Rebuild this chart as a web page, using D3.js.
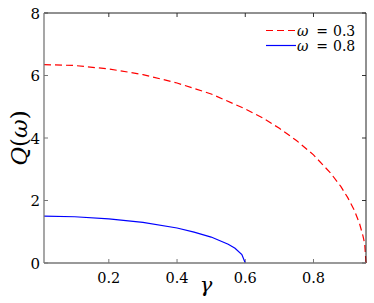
<!DOCTYPE html>
<html>
<head>
<meta charset="utf-8">
<script src="https://cdn.jsdelivr.net/npm/d3@7"></script>
<style>
body { margin: 0; background: #fff; }
svg text { font-family: "DejaVu Serif", serif !important; }
</style>
</head>
<body>
<script>
// values
var gammaRed = [0.01, 0.1, 0.2, 0.3, 0.4, 0.5, 0.6, 0.65, 0.7, 0.75, 0.8, 0.85, 0.88, 0.9, 0.92, 0.935, 0.945, 0.95, 0.9539]
var qRed     = [6.35, 6.32, 6.21, 6.03, 5.76, 5.41, 4.93, 4.65, 4.31, 3.92, 3.46, 2.88, 2.45, 2.10, 1.68, 1.26, 0.87, 0.62, 0]
var gammaBlue = [0.01, 0.1, 0.2, 0.3, 0.4, 0.45, 0.5, 0.55, 0.57, 0.59, 0.6]
var qBlue     = [1.5, 1.48, 1.41, 1.30, 1.12, 0.99, 0.83, 0.60, 0.47, 0.27, 0]
var xTicks = [0.2, 0.4, 0.6, 0.8]
var yTicks = [0, 2, 4, 6, 8]
var legendValues = ["0.3", "0.8"]

var W = 374, H = 303
var margin = {top: 13, right: 8, bottom: 40, left: 44}

var svg = d3.select("body").append("svg")
    .attr("width", W).attr("height", H)

var x = d3.scaleLinear().domain([0.01, 0.9539]).range([margin.left, W - margin.right])
var y = d3.scaleLinear().domain([0, 8]).range([H - margin.bottom, margin.top])

var x0 = x.range()[0], x1 = x.range()[1], y0 = y.range()[0], y1 = y.range()[1]

// ticks inward, on all four sides
var g = svg.append("g")
xTicks.forEach(function(t){
    g.append("line").attr("x1", x(t)).attr("x2", x(t)).attr("y1", y0).attr("y2", y0 - 4).attr("stroke", "#777")
    g.append("line").attr("x1", x(t)).attr("x2", x(t)).attr("y1", y1).attr("y2", y1 + 4).attr("stroke", "#333")
    g.append("text").attr("x", x(t)).attr("y", y0 + 20).attr("text-anchor", "middle")
        .attr("font-size", 14.5).text(t)
})
yTicks.forEach(function(t){
    g.append("line").attr("x1", x0).attr("x2", x0 + 4).attr("y1", y(t)).attr("y2", y(t)).attr("stroke", "#777")
    g.append("line").attr("x1", x1).attr("x2", x1 - 4).attr("y1", y(t)).attr("y2", y(t)).attr("stroke", "#333")
    g.append("text").attr("x", x0 - 4).attr("y", y(t) + 5.5).attr("text-anchor", "end")
        .attr("font-size", 15).text(t)
})

var line = d3.line().x(function(d){ return x(d[0]) }).y(function(d){ return y(d[1]) })

svg.append("path").datum(d3.zip(gammaBlue, qBlue))
    .attr("d", line).attr("fill", "none").attr("stroke", "#0000ff").attr("stroke-width", 1.2)
svg.append("path").datum(d3.zip(gammaRed, qRed))
    .attr("d", line).attr("fill", "none").attr("stroke", "#ff0000").attr("stroke-width", 1.2)
    .attr("stroke-dasharray", "7,4")

// axes box
svg.append("line").attr("x1", x0).attr("x2", x1).attr("y1", y1).attr("y2", y1).attr("stroke", "#222")
svg.append("line").attr("x1", x1).attr("x2", x1).attr("y1", y1).attr("y2", y0).attr("stroke", "#222")
svg.append("line").attr("x1", x0).attr("x2", x1).attr("y1", y0).attr("y2", y0).attr("stroke", "#777").attr("stroke-width", 1.3)
svg.append("line").attr("x1", x0).attr("x2", x0).attr("y1", y1).attr("y2", y0).attr("stroke", "#777").attr("stroke-width", 1.3)

// axis labels
svg.append("text").attr("x", 206).attr("y", 292).attr("text-anchor", "middle")
    .attr("font-size", 21).attr("font-style", "italic").text("\u03B3")
svg.append("text").attr("transform", "translate(27," + 138 + ") rotate(-90)")
    .attr("text-anchor", "middle").attr("font-size", 23)
    .html('<tspan font-style="italic">Q</tspan>(<tspan font-style="italic">\u03C9</tspan>)')

// legend: symbol, "=", value as separate pieces, TeX-like spacing
var colors = ["#ff0000", "#0000ff"]
legendValues.forEach(function(v, i){
    var ly = 30.5 + i * 15
    svg.append("line").attr("x1", 266).attr("x2", 296).attr("y1", ly).attr("y2", ly)
        .attr("stroke", colors[i]).attr("stroke-width", 1.2)
        .attr("stroke-dasharray", i == 0 ? "7,4" : null)
    svg.append("text").attr("x", 297).attr("y", ly + 5).attr("font-size", 14)
        .attr("font-style", "italic").text("\u03C9")
    svg.append("text").attr("x", 322).attr("y", ly + 5).attr("font-size", 14)
        .attr("text-anchor", "middle").text("=")
    svg.append("text").attr("x", 333).attr("y", ly + 5).attr("font-size", 14).text(v)
})
</script>
</body>
</html>
